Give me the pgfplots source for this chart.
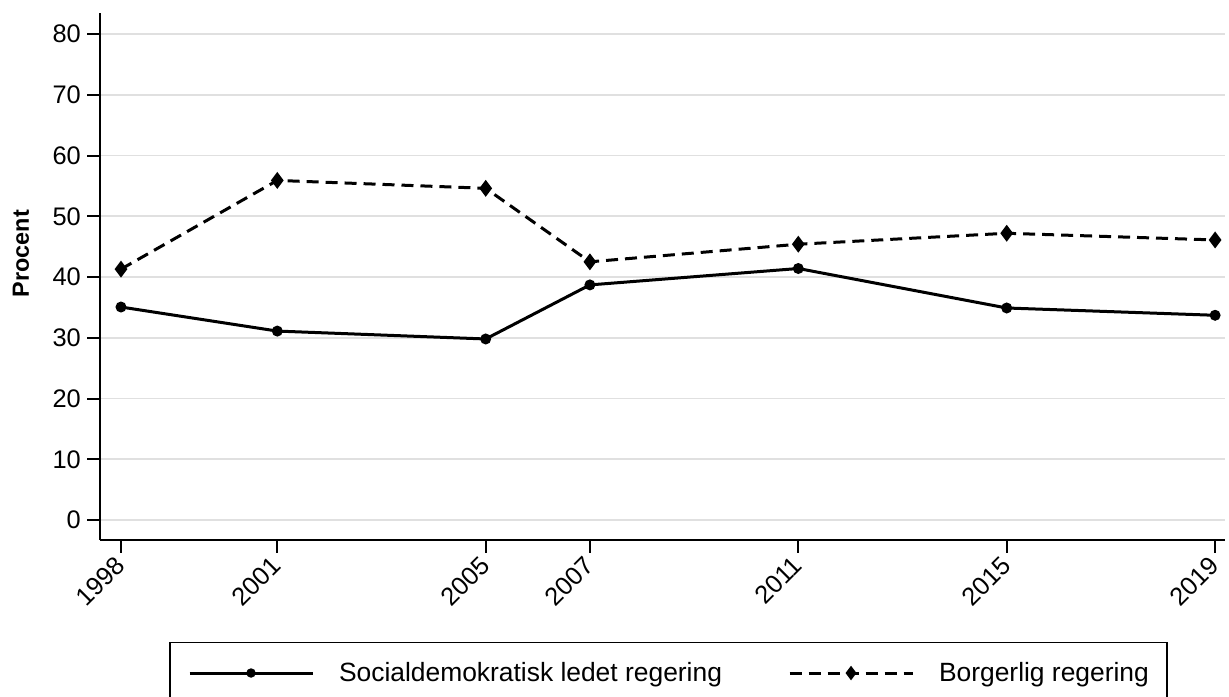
\documentclass[border=0pt]{standalone}
\usepackage{fontspec}
\setmainfont{Liberation Sans}
\usepackage{pgfplots}
\pgfplotsset{compat=1.18}
\newcommand{\tickfont}{\fontsize{25.5}{30}\selectfont}
\newcommand{\legfont}{\fontsize{26.5}{31}\selectfont}
\begin{document}
\begin{tikzpicture}
\begin{axis}[
 scale only axis, width=1125bp, height=527bp,
 xmin=1997.597, xmax=2019.19, ymin=-3.29, ymax=83.46,
 axis x line*=bottom, axis y line*=left,
 axis line style={line width=2bp, black, -},
 xtick={1998,2001,2005,2007,2011,2015,2019},
 ytick={0,10,...,80},
 tick style={line width=2bp, black},
 tick align=outside, major tick length=13bp,
 ymajorgrids, grid style={line width=1.7bp, black!12},
 /pgf/number format/assume math mode=true,
 /pgf/number format/1000 sep={},
 xticklabel style={xshift=-7bp, yshift=-1.5bp, rotate=45, anchor=north east, font=\tickfont, inner sep=0bp},
 yticklabel style={font=\tickfont, inner sep=0bp, xshift=-6bp},
 ylabel={\textbf{Procent}},
 every axis y label/.style={at={(axis description cs:-0.0702,0.5436)}, rotate=90, anchor=center, font=\fontsize{23.5}{27}\selectfont},
 legend columns=2,
 legend style={at={(axis description cs:0.5053,0)}, anchor=north, yshift=-102bp, font=\legfont, draw=black, line width=1.4bp, inner xsep=18bp, inner ysep=20bp,
   nodes={inner sep=0bp},
   /tikz/every odd column/.append style={column sep=25bp},
   /tikz/every even column/.append style={column sep=66bp}},
 legend image code/.code={\draw[mark repeat=2,mark phase=2, every mark/.append style={solid, scale=0.8}] plot coordinates {(0bp,0bp) (61.5bp,0bp) (123bp,0bp)};},
 legend cell align=left,
]
\coordinate (ll) at (rel axis cs:0,0);
\coordinate (ur) at (rel axis cs:1,1);
\addplot[black, line width=3bp, mark=*, mark size=3.9bp] coordinates {
 (1998,35.06) (2001,31.1) (2005,29.8) (2007,38.7) (2011,41.4) (2015,34.9) (2019,33.7)};
\addlegendentry{Socialdemokratisk ledet regering}
\addplot[black, line width=3bp, dash pattern=on 12bp off 7bp, mark=diamond*, mark size=6bp, mark options={solid}] coordinates {
 (1998,41.3) (2001,55.9) (2005,54.6) (2007,42.5) (2011,45.4) (2015,47.2) (2019,46.1)};
\addlegendentry{Borgerlig regering}
\end{axis}
\pgfresetboundingbox
\path ([xshift=-100bp,yshift=-157bp]ll) rectangle ([xshift=4bp,yshift=13bp]ur);
\end{tikzpicture}
\end{document}
